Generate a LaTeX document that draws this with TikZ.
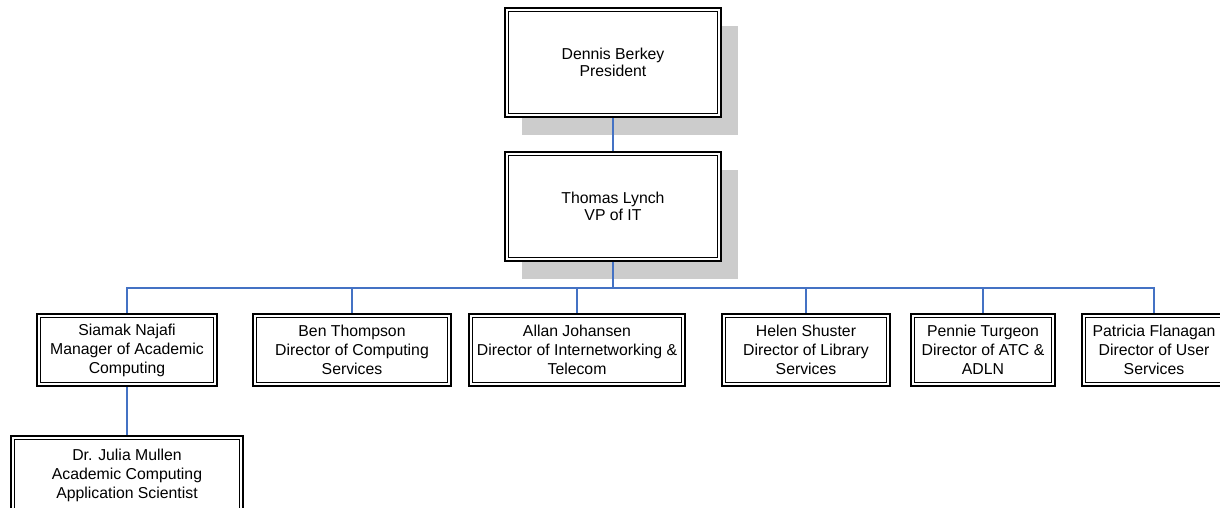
\documentclass[tikz,border=0pt]{standalone}
\usepackage{fontspec}
\setmainfont{Liberation Sans}
\usepackage{tikz}
\usetikzlibrary{shadows,positioning}
\definecolor{linkblue}{RGB}{68,114,196}
\definecolor{shadowgray}{RGB}{204,204,204}
\tikzset{
  person/.style={draw,line width=2pt,fill=white,inner sep=0pt,align=center,
    font=\fontsize{15.8}{19}\selectfont,
    path picture={\draw[line width=1pt]
      ([shift={(3.5pt,-3.5pt)}]path picture bounding box.north west) rectangle
      ([shift={(-3.5pt,3.5pt)}]path picture bounding box.south east);}},
  chief/.style={person,minimum width=216pt,minimum height=109pt,
    font=\fontsize{15.8}{17}\selectfont,
    drop shadow={shadow xshift=17pt,shadow yshift=-18pt,fill=shadowgray,opacity=1}},
  staff/.style={person,minimum height=72pt},
  link/.style={linkblue,line width=2pt}
}

\begin{document}
\begin{tikzpicture}[x=1pt,y=-1pt]
  \useasboundingbox (0,0) rectangle (1220,508);
  \clip (0,0) rectangle (1220,508);

  % top of the chart
  \node[chief] (berkey) at (613,62.5) {Dennis Berkey\\President};
  \node[chief] (lynch) at (613,206.5) {Thomas Lynch\\VP of IT};

  % directors
  \node[staff,minimum width=180pt] (najafi) at (127,350) {Siamak Najafi\\Manager of Academic\\Computing};
  \node[staff,minimum width=198pt] (thompson) at (352,350) {Ben Thompson\\Director of Computing\\Services};
  \node[staff,minimum width=216pt] (johansen) at (577,350) {Allan Johansen\\Director of Internetworking \&\\Telecom};
  \node[staff,minimum width=168pt] (shuster) at (806,350) {Helen Shuster\\Director of Library\\Services};
  \node[staff,minimum width=144pt] (turgeon) at (983,350) {Pennie Turgeon\\Director of ATC \&\\ADLN};
  \node[staff,minimum width=144pt] (flanagan) at (1154,350) {Patricia Flanagan\\Director of User\\Services};

  % below academic computing
  \node[person,minimum width=232pt,minimum height=78pt] (mullen) at (127,475) {Dr. Julia Mullen\\Academic Computing\\Application Scientist};

  % connectors
  \draw[link] (berkey) -- (lynch);
  \foreach \who in {najafi,thompson,johansen,shuster,turgeon,flanagan}
    \draw[link] (lynch.south) -- ++(0,26) -| (\who.north);
  \draw[link] (najafi) -- (mullen);
\end{tikzpicture}
\end{document}
